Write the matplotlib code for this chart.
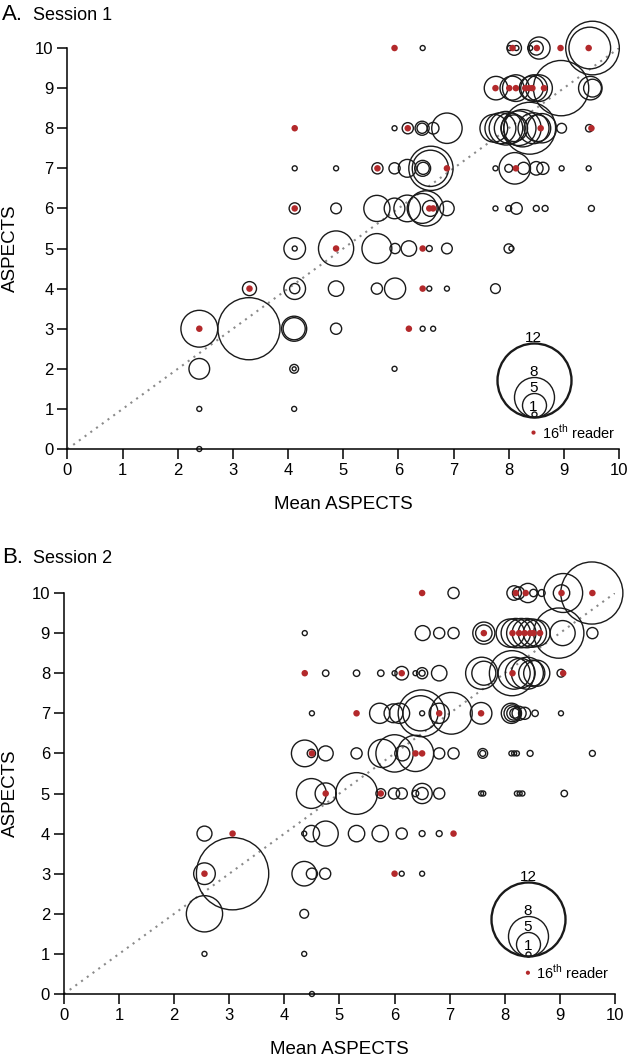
import numpy as np
import matplotlib.pyplot as plt
import matplotlib.transforms as mtransforms

plt.rcParams['font.family'] = ['Liberation Sans', 'DejaVu Sans']
plt.rcParams['mathtext.fontset'] = 'custom'
plt.rcParams['mathtext.rm'] = 'Liberation Sans'

DPI = 100
RED = '#b3292b'
INK = '#1a1a1a'

# bubble size = number of readers giving that score; radius (px) from the legend scale
legend_counts = [1, 5, 8, 12]
size_counts = [0, 1, 5, 8, 12]
size_radii_px = [0, 2.5, 12, 20, 37]

# ---------------- Session 1 ----------------
s1_x = [6.44, 8.02, 8.10, 8.14, 8.39, 8.55, 8.50, 9.52, 9.47,                       # y=10
        7.77, 8.06, 8.13, 8.41, 8.46, 8.55, 8.95, 9.48, 9.52,                       # y=9
        5.93, 6.17, 6.43, 6.43, 6.63, 6.88,                                         # y=8
        7.73, 7.85, 7.95, 8.02, 8.10, 8.18, 8.25, 8.38, 8.45, 8.52, 8.60, 8.96, 9.46,
        4.12, 4.87, 5.62, 5.93, 6.16, 6.44, 6.45, 6.59, 6.58,                       # y=7
        7.76, 8.00, 8.11, 8.27, 8.50, 8.62, 8.96, 9.45,
        4.12, 4.87, 5.61, 5.93, 6.16, 6.43, 6.50, 6.58, 6.88,                       # y=6
        7.76, 8.00, 8.14, 8.50, 8.66, 9.50,
        4.12, 4.12, 4.87, 5.61, 5.94, 6.19, 6.56, 6.88, 8.00, 8.05,                 # y=5
        3.30, 4.12, 4.12, 4.87, 5.61, 5.94, 6.56, 6.88, 7.76,                       # y=4
        2.39, 3.29, 4.11, 4.11, 4.87, 6.44, 6.63,                                   # y=3
        2.39, 4.11, 4.11, 5.93,                                                     # y=2
        2.39, 4.11,                                                                 # y=1
        2.39]                                                                       # y=0
s1_y = ([10] * 9 + [9] * 9 + [8] * 6 + [8] * 13 + [7] * 9 + [7] * 8 + [6] * 9 + [6] * 6
        + [5] * 10 + [4] * 9 + [3] * 7 + [2] * 4 + [1] * 2 + [0])
s1_n = [1, 1, 3.0, 1, 1, 4.6, 2.9, 9.6, 8.2,
        4.9, 5.0, 5.5, 5.0, 5.5, 5.5, 9.8, 4.9, 3.7,
        1, 2.3, 2.9, 2.1, 2.4, 6.2,
        5.7, 6.3, 6.8, 6.3, 5.5, 7.0, 7.5, 9.4, 6.3, 5.5, 6.0, 2.0, 1.5,
        1, 1, 2.3, 2.3, 3.7, 3.3, 2.5, 8.5, 7.3,
        1, 1.6, 6.4, 2.5, 2.8, 2.5, 1, 1,
        2.3, 2.2, 5.4, 4.3, 5.5, 6.1, 7.1, 3.3, 3.0,
        1, 1.2, 2.4, 1.2, 1.2, 1.2,
        4.5, 1, 7.1, 6.1, 2.1, 3.2, 1.2, 2.2, 1.9, 1,
        2.9, 4.5, 2.1, 3.2, 2.3, 4.4, 1, 1, 2.0,
        7.4, 10.6, 5.2, 4.6, 2.3, 1, 1,
        4.3, 1.8, 0.8, 1,
        1, 1,
        1]
s1_red_x = [5.93, 8.07, 8.51, 8.94, 9.45,
            7.76, 8.01, 8.13, 8.30, 8.37, 8.43, 8.64,
            4.12, 6.17, 8.58, 9.50,
            5.62, 6.88, 8.13,
            4.12, 6.56, 6.63,
            4.87, 6.44,
            3.30, 6.44,
            2.39, 6.19]
s1_red_y = [10] * 5 + [9] * 7 + [8] * 4 + [7] * 3 + [6] * 3 + [5] * 2 + [4] * 2 + [3] * 2

# ---------------- Session 2 ----------------
s2_x = [7.07, 8.17, 8.25, 8.42, 8.52, 8.67, 9.03, 9.06, 9.58,                       # y=10
        4.37, 6.51, 6.81, 7.07, 7.62, 7.62, 8.10, 8.20, 8.30, 8.40, 8.50, 8.58,     # y=9
        8.98, 9.05, 9.59,
        4.75, 5.31, 5.75, 6.00, 6.13, 6.38, 6.50, 6.50, 6.81,                       # y=8
        7.58, 7.62, 8.13, 8.17, 8.28, 8.41, 8.49, 8.58, 9.02,
        4.50, 5.73, 5.98, 6.09, 6.49, 6.47, 6.50, 6.81, 7.03,                       # y=7
        7.57, 8.12, 8.14, 8.16, 8.18, 8.26, 8.36, 8.55, 9.02,
        4.37, 4.49, 4.75, 5.31, 5.78, 6.00, 6.14, 6.38, 6.81, 7.07,                 # y=6
        7.60, 7.60, 8.12, 8.17, 8.22, 8.46, 9.59,
        4.49, 4.75, 5.31, 5.75, 5.99, 6.13, 6.38, 6.50, 6.50, 6.81,                 # y=5
        7.57, 7.61, 8.22, 8.27, 8.32, 9.08,
        2.55, 4.36, 4.49, 4.75, 5.31, 5.74, 6.13, 6.50, 6.81,                       # y=4
        2.55, 3.06, 4.36, 4.50, 4.74, 6.13, 6.50,                                   # y=3
        2.55, 4.36,                                                                 # y=2
        2.55, 4.36,                                                                 # y=1
        4.50]                                                                       # y=0
s2_y = ([10] * 9 + [9] * 15 + [8] * 9 + [8] * 9 + [7] * 9 + [7] * 9 + [6] * 10 + [6] * 7
        + [5] * 10 + [5] * 6 + [4] * 9 + [3] * 7 + [2] * 2 + [1] * 2 + [0])
s2_n = [2.3, 3.0, 2.5, 4.0, 1.5, 1.4, 3.4, 7.8, 10.6,
        1, 3.1, 2.3, 2.3, 4.6, 3.4, 5.8, 6.0, 6.0, 6.0, 5.8, 5.5,
        9.2, 5.2, 2.3,
        1.3, 1.3, 1.3, 1, 2.8, 1, 2.3, 1.2, 3.2,
        6.5, 5.0, 8.6, 6.5, 6.1, 6.5, 5.4, 5.4, 1.6,
        1, 4.2, 3.9, 4.2, 8.8, 7.1, 1, 4.2, 8.2,
        4.5, 4.2, 3.5, 2.8, 2.0, 2.9, 2.5, 1.3, 1,
        5.5, 1.7, 3.1, 2.3, 5.8, 7.5, 3.1, 7.3, 2.3, 2.3,
        2.0, 1.2, 1, 1, 1, 1.2, 1.2,
        6.1, 4.4, 8.2, 2.0, 2.3, 2.3, 1.3, 4.2, 2.5, 2.3,
        1, 1, 1, 1, 1, 1.3,
        3.1, 1, 3.4, 5.2, 3.4, 3.4, 2.3, 1.2, 1.2,
        4.5, 11.8, 5.1, 2.3, 2.3, 1, 1,
        7.3, 1.8,
        1, 1,
        1]
s2_red_x = [6.50, 8.20, 8.38, 9.03, 9.59,
            7.62, 8.14, 8.26, 8.36, 8.46, 8.52, 8.64,
            4.37, 6.13, 8.14, 9.06,
            5.31, 6.81, 7.57,
            4.50, 6.38, 6.50,
            4.75, 5.75,
            3.06, 7.07,
            2.55, 6.00]
s2_red_y = [10] * 5 + [9] * 7 + [8] * 4 + [7] * 3 + [6] * 3 + [5] * 2 + [4] * 2 + [3] * 2

ticks = list(range(0, 11))


def radius_pt(n):
    return np.interp(n, size_counts, size_radii_px) * 72 / DPI


def draw_panel(ax, bx, by, bn, rx, ry, leg_x, leg_y, key_y, key_text_x):
    ax.plot([0, 10], [0, 10], ls=(0, (1, 2.4)), color='#8a8a8a', lw=1.5, zorder=1)
    sizes = (2 * radius_pt(np.array(bn))) ** 2
    ax.scatter(bx, by, s=sizes, facecolors='none', edgecolors=INK,
               linewidths=1.0, clip_on=False, zorder=2)
    ax.scatter(rx, ry, s=22, color=RED, edgecolors='none', clip_on=False, zorder=3)

    # size key: circles tangent at the bottom
    for n in legend_counts:
        r = radius_pt(n)
        tr = mtransforms.offset_copy(ax.transData, fig=ax.figure, x=0, y=r, units='points')
        ax.plot([leg_x], [leg_y], marker='o', ms=2 * r, mfc='none', mec=INK,
                mew=1.7 if n == 12 else 1.0, transform=tr, clip_on=False)
        tr_t = mtransforms.offset_copy(ax.transData, fig=ax.figure, x=0, y=2 * r - 1.5,
                                       units='points')
        ax.text(leg_x, leg_y, str(n), transform=tr_t, ha='center', va='bottom', fontsize=11)
    ax.scatter([leg_x], [key_y], s=9, color=RED, edgecolors='none', zorder=3)
    ax.text(key_text_x, key_y, r'16$^{\mathrm{th}}$ reader', fontsize=10.5, va='center')

    ax.set_xlim(0, 10)
    ax.set_ylim(0, 10)
    ax.set_xticks(ticks)
    ax.set_yticks(ticks)
    for side in ['top', 'right']:
        ax.spines[side].set_visible(False)
    for side in ['left', 'bottom']:
        ax.spines[side].set_linewidth(1.1)
    ax.tick_params(direction='out', length=7, width=1.1, labelsize=12, pad=3)
    ax.set_xlabel('Mean ASPECTS', fontsize=13.5)
    ax.set_ylabel('ASPECTS', fontsize=13.5)
    ax.xaxis.set_label_coords(0.5, -0.118)


fig = plt.figure(figsize=(6.29, 10.58), dpi=DPI)
ax1 = fig.add_axes([0.1073, 0.5756, 0.8768, 0.379])
ax2 = fig.add_axes([0.1017, 0.0605, 0.876, 0.379])

draw_panel(ax1, s1_x, s1_y, s1_n, s1_red_x, s1_red_y, 8.45, 0.81, 0.41, 8.6)
draw_panel(ax2, s2_x, s2_y, s2_n, s2_red_x, s2_red_y, 8.42, 0.94, 0.53, 8.56)
ax1.yaxis.set_label_coords(-0.088, 0.5)
ax2.yaxis.set_label_coords(-0.082, 0.5)

fig.text(2 / 629, 1 - 20 / 1058, 'A.', fontsize=16, va='baseline')
fig.text(33 / 629, 1 - 20 / 1058, 'Session 1', fontsize=13, va='baseline')
fig.text(2 / 629, 1 - 563 / 1058, 'B.', fontsize=16, va='baseline')
fig.text(33 / 629, 1 - 563 / 1058, 'Session 2', fontsize=13, va='baseline')

fig.savefig('out.png', dpi=DPI)
